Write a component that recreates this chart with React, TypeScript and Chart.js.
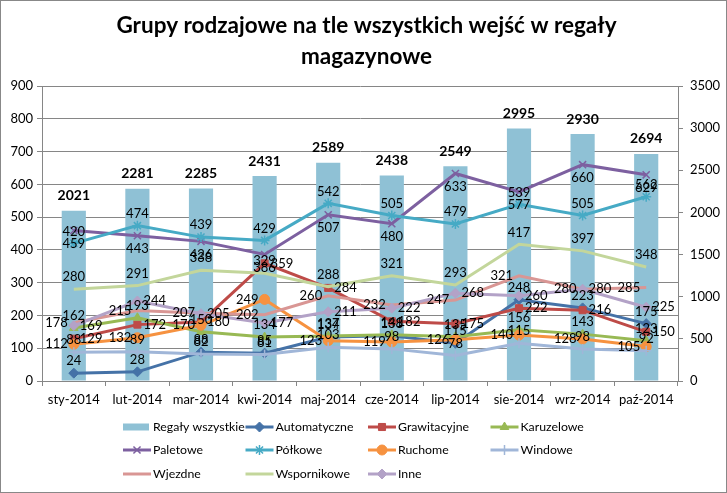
import React, { useEffect, useRef } from 'react';
import { Chart, registerables } from 'chart.js';
import { drawPoint } from 'chart.js/helpers';

Chart.register(...registerables);

const titleLines = ['Grupy rodzajowe na tle wszystkich wejść w regały', 'magazynowe'];

const categories = ['sty-2014', 'lut-2014', 'mar-2014', 'kwi-2014', 'maj-2014', 'cze-2014', 'lip-2014', 'sie-2014', 'wrz-2014', 'paź-2014'];

const regalyWszystkie = [2021, 2281, 2285, 2431, 2589, 2438, 2549, 2995, 2930, 2694];
const automatyczne = [24, 28, 88, 85, 134, 138, 115, 248, 223, 175];
const grawitacyjne = [129, 172, 180, 359, 284, 182, 175, 222, 216, 150];
const karuzelowe = [162, 193, 150, 134, 137, 141, 135, 156, 143, 123];
const paletowe = [459, 443, 426, 386, 507, 480, 633, 577, 660, 629];
const polkowe = [420, 474, 439, 429, 542, 505, 479, 539, 505, 562];
const ruchome = [112, 132, 170, 249, 123, 119, 126, 140, 128, 105];
const windowe = [88, 89, 82, 81, 103, 98, 78, 115, 98, 92];
const wjezdne = [178, 215, 207, 202, 260, 232, 247, 321, 280, 285];
const wspornikowe = [280, 291, 338, 329, 288, 321, 293, 417, 397, 348];
const inne = [169, 244, 205, 177, 211, 222, 268, 260, 280, 225];

const leftAxis = { min: 0, max: 900, step: 100 };
const rightAxis = { min: 0, max: 3500, step: 500 };

const FONT = 'Lato';
const GRID = '#868686';

const valueLabelsPlugin = {
  id: 'valueLabels',
  afterDatasetsDraw(chart: any) {
    const ctx = chart.ctx;
    chart.data.datasets.forEach((ds: any, i: number) => {
      const meta = chart.getDatasetMeta(i);
      meta.data.forEach((el: any, j: number) => {
        const v = ds.data[j];
        ctx.save();
        ctx.fillStyle = '#000';
        ctx.textBaseline = 'middle';
        let x = el.x;
        let y = el.y;
        if (ds.type === 'bar') {
          ctx.font = `bold 14px ${FONT}`;
          ctx.textAlign = 'center';
          y = el.y - 15;
        } else {
          ctx.font = `13px ${FONT}`;
          const pos = ds.labelPos;
          if (pos === 'above') { ctx.textAlign = 'center'; y -= 12; }
          else if (pos === 'below') { ctx.textAlign = 'center'; y += 13; }
          else if (pos === 'left') { ctx.textAlign = 'right'; x -= 6; }
          else { ctx.textAlign = 'left'; x += 6; }
        }
        ctx.fillText(String(v), x, y);
        ctx.restore();
      });
    });
  },
};

const frameAndLegendPlugin = {
  id: 'frameAndLegend',
  afterDraw(chart: any) {
    const ctx = chart.ctx;
    const W = chart.width;
    const H = chart.height;
    ctx.save();
    ctx.strokeStyle = '#888';
    ctx.lineWidth = 1;
    ctx.strokeRect(0.5, 0.5, W - 1, H - 1);
    ctx.fillStyle = '#000';
    ctx.font = `bold 22.5px ${FONT}`;
    ctx.textAlign = 'center';
    ctx.textBaseline = 'middle';
    titleLines.forEach((t, k) => ctx.fillText(t, W / 2 + 3, 26 + k * 31));
    const x0 = 123;
    const colW = 122.5;
    const rowY = [427, 450, 474];
    chart.data.datasets.forEach((ds: any, i: number) => {
      const col = i % 4;
      const row = Math.floor(i / 4);
      const x = x0 + col * colW;
      const y = rowY[row];
      if (ds.type === 'bar') {
        ctx.fillStyle = ds.backgroundColor;
        ctx.fillRect(x, y - 3.5, 26, 7);
      } else {
        ctx.strokeStyle = ds.borderColor;
        ctx.lineWidth = 3;
        ctx.beginPath();
        ctx.moveTo(x, y);
        ctx.lineTo(x + 28, y);
        ctx.stroke();
        if (ds.pointRadius > 0) {
          ctx.fillStyle = ds.pointBackgroundColor;
          ctx.strokeStyle = ds.pointBorderColor;
          ctx.lineWidth = ds.pointBorderWidth;
          drawPoint(ctx, { pointStyle: ds.pointStyle, rotation: 0, radius: ds.pointRadius, borderWidth: ds.pointBorderWidth } as any, x + 14, y);
        }
      }
      ctx.fillStyle = '#000';
      ctx.font = `12.3px ${FONT}`;
      ctx.textAlign = 'left';
      ctx.textBaseline = 'middle';
      ctx.fillText(ds.label, x + 30, y);
    });
    ctx.restore();
  },
};

function lineDs(label: string, data: number[], color: string, pointStyle: any, labelPos: string, order: number, radius = 5) {
  return {
    type: 'line',
    label,
    data,
    yAxisID: 'y',
    borderColor: color,
    backgroundColor: color,
    borderWidth: 3,
    pointStyle: pointStyle || 'circle',
    pointRadius: pointStyle ? radius : 0,
    pointHoverRadius: pointStyle ? radius : 0,
    pointBackgroundColor: color,
    pointBorderColor: color,
    pointBorderWidth: pointStyle === 'crossRot' || pointStyle === 'star' || pointStyle === 'cross' ? 1.5 : 1,
    tension: 0,
    fill: false,
    labelPos,
    order,
  };
}

export default function App() {
  const canvasRef = useRef<HTMLCanvasElement | null>(null);

  useEffect(() => {
    document.body.style.margin = '0';
    const canvas = canvasRef.current;
    if (!canvas) return;
    const chart = new Chart(canvas, {
      type: 'bar',
      data: {
        labels: categories,
        datasets: [
          {
            type: 'bar',
            label: 'Regały wszystkie',
            data: regalyWszystkie,
            yAxisID: 'y1',
            backgroundColor: '#8FC1D5',
            borderWidth: 0,
            barPercentage: 0.38,
            categoryPercentage: 1,
            order: 100,
          } as any,
          lineDs('Automatyczne', automatyczne, '#4572A7', 'rectRot', 'above', 10),
          lineDs('Grawitacyjne', grawitacyjne, '#BE4B48', 'rect', 'right', 9),
          lineDs('Karuzelowe', karuzelowe, '#98B954', 'triangle', 'above', 8),
          lineDs('Paletowe', paletowe, '#7D60A0', 'crossRot', 'below', 7),
          lineDs('Półkowe', polkowe, '#46AAC5', 'star', 'above', 6),
          lineDs('Ruchome', ruchome, '#F69240', 'circle', 'left', 5),
          lineDs('Windowe', windowe, '#A0B6D8', 'cross', 'above', 4),
          lineDs('Wjezdne', wjezdne, '#D99694', null, 'left', 3),
          lineDs('Wspornikowe', wspornikowe, '#C3D69B', null, 'above', 2),
          lineDs('Inne', inne, '#B3A2C7', 'rectRot', 'right', 1),
        ] as any,
      },
      options: {
        animation: false,
        responsive: true,
        maintainAspectRatio: false,
        events: [],
        layout: { padding: { top: 86, bottom: 82, left: 0, right: 0 } },
        plugins: {
          legend: { display: false },
          title: { display: false },
          tooltip: { enabled: false },
        },
        scales: {
          x: {
            offset: true,
            grid: { display: true, drawOnChartArea: false, drawTicks: true, tickLength: 5, color: GRID, offset: true },
            border: { color: GRID },
            ticks: { color: '#000', font: { family: FONT, size: 13 }, padding: 6, maxRotation: 0, autoSkip: false },
            afterFit: (s: any) => { s.height = 30; },
          },
          y: {
            position: 'left',
            min: leftAxis.min,
            max: leftAxis.max,
            ticks: { stepSize: leftAxis.step, color: '#000', font: { family: FONT, size: 13 }, padding: 4, callback: (v: any) => String(v) },
            grid: { color: GRID, tickLength: 5, drawTicks: true },
            border: { color: GRID },
            afterFit: (s: any) => { s.width = 42; },
          },
          y1: {
            position: 'right',
            min: rightAxis.min,
            max: rightAxis.max,
            ticks: { stepSize: rightAxis.step, color: '#000', font: { family: FONT, size: 13 }, padding: 7, callback: (v: any) => String(v) },
            grid: { drawOnChartArea: false, color: GRID, tickLength: 5, drawTicks: true },
            border: { color: GRID },
            afterFit: (s: any) => { s.width = 49; },
          },
        },
      } as any,
      plugins: [valueLabelsPlugin, frameAndLegendPlugin],
    });
    return () => chart.destroy();
  }, []);

  return (
    <div style={{ width: 727, height: 493, position: 'relative', background: '#fff' }}>
      <canvas ref={canvasRef} />
    </div>
  );
}
